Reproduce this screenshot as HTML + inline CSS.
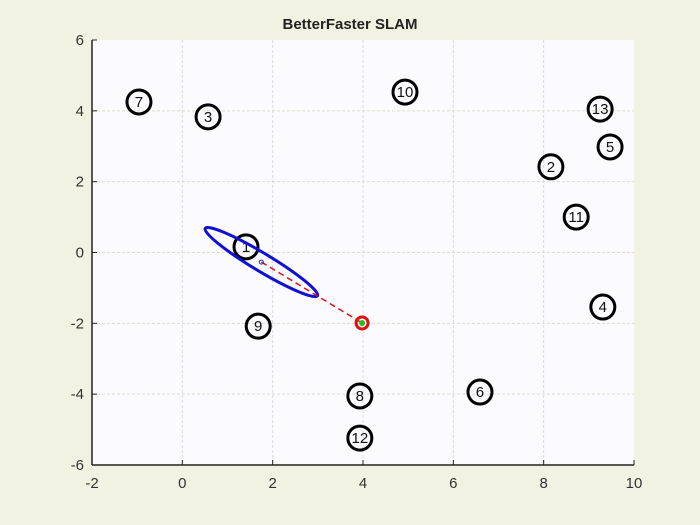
<!DOCTYPE html>
<html><head><meta charset="utf-8"><style>
body{margin:0;background:#f2f2e4;}
svg{display:block;font-family:"Liberation Sans",sans-serif;}
</style></head><body>
<svg id="c" width="700" height="525">
<rect x="0" y="0" width="700" height="525" fill="#f2f2e2"/>
<rect x="92" y="40" width="542" height="425" fill="#fbfbff"/>
<g id="grid"></g>
<g id="axes"></g>
<g id="marks"></g>
<text x="350" y="29" text-anchor="middle" font-size="15" font-weight="bold" fill="#222">BetterFaster SLAM</text>
</svg>
<script>
const xTicks=[-2,0,2,4,6,8,10];
const yTicks=[-6,-4,-2,0,2,4,6];
const lmIds=[7,3,10,13,5,2,11,1,4,9,6,8,12];
const lmX=[-0.96,0.57,4.93,9.25,9.47,8.16,8.72,1.41,9.31,1.68,6.59,3.93,3.93];
const lmY=[4.25,3.83,4.53,4.05,2.98,2.42,1.0,0.16,-1.54,-2.08,-3.94,-4.05,-5.24];
const robot=[3.98,-1.99];
const estimate=[1.75,-0.27];
const ellipseAxes=[1.45,0.2];
const ellipseAngle=31;
const NS="http://www.w3.org/2000/svg";
const X0=92,X1=634,Y0=465,Y1=40;
const sx=v=>X0+(v+2)/12*(X1-X0);
const sy=v=>Y0-(v+6)/12*(Y0-Y1);
function mk(t,a,p){const e=document.createElementNS(NS,t);for(const k in a)e.setAttribute(k,a[k]);p.appendChild(e);return e;}
const grid=document.getElementById('grid'),axes=document.getElementById('axes'),marks=document.getElementById('marks');
xTicks.forEach(v=>{
 if(v>-2&&v<10){const l=mk('line',{x1:sx(v),x2:sx(v),y1:Y1,y2:Y0,stroke:'#d8d8e4','stroke-dasharray':'3,2'},grid);
 }
 const tk=mk('line',{x1:sx(v),x2:sx(v),y1:Y0,y2:Y0-5,stroke:'#222'},axes);
 
 const t=mk('text',{x:sx(v),y:Y0+23,'text-anchor':'middle','font-size':15,fill:'#333'},axes);t.textContent=v;
 
});
yTicks.forEach(v=>{
 if(v>-6&&v<6){const l=mk('line',{x1:X0,x2:X1,y1:sy(v),y2:sy(v),stroke:'#dcdcc8','stroke-dasharray':'3,2'},grid);
 }
 const tk=mk('line',{x1:X0,x2:X0+5,y1:sy(v),y2:sy(v),stroke:'#222'},axes);
 
 const t=mk('text',{x:X0-8,y:sy(v)+5,'text-anchor':'end','font-size':15,fill:'#333'},axes);t.textContent=v;
 
});
const xa=mk('line',{x1:X0,x2:X1,y1:Y0,y2:Y0,stroke:'#222','stroke-width':1.5},axes);

const ya=mk('line',{x1:X0,x2:X0,y1:Y0,y2:Y1,stroke:'#222','stroke-width':1.5},axes);

lmIds.forEach((id,i)=>{
 const c=mk('circle',{cx:sx(lmX[i]),cy:sy(lmY[i]),r:12,fill:'none',stroke:'#000','stroke-width':3},marks);
 
 const t=mk('text',{x:sx(lmX[i]),y:sy(lmY[i])+5,'text-anchor':'middle','font-size':15,fill:'#111'},marks);t.textContent=id;
 
});
const pxu=(X1-X0)/12;
const el=mk('ellipse',{cx:sx(estimate[0]),cy:sy(estimate[1]),rx:ellipseAxes[0]*pxu,ry:ellipseAxes[1]*pxu,fill:'none',stroke:'#1010d0','stroke-width':3,transform:`rotate(${ellipseAngle} ${sx(estimate[0])} ${sy(estimate[1])})`},marks);

const ln=mk('line',{x1:sx(estimate[0]),y1:sy(estimate[1]),x2:sx(robot[0]),y2:sy(robot[1]),stroke:'#e01010','stroke-width':1.5,'stroke-dasharray':'6,4'},marks);

const ec=mk('circle',{cx:sx(estimate[0]),cy:sy(estimate[1]),r:2,fill:'none',stroke:'#3030c0'},marks);

const rc=mk('circle',{cx:sx(robot[0]),cy:sy(robot[1]),r:6,fill:'none',stroke:'#e01010','stroke-width':3},marks);

const rg=mk('circle',{cx:sx(robot[0]),cy:sy(robot[1]),r:3,fill:'#20c020'},marks);

</script>
</body></html>
